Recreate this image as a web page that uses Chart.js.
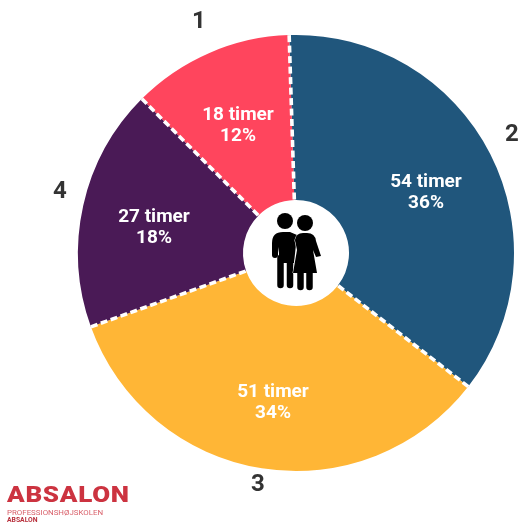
<!DOCTYPE html>
<html>
<head>
<meta charset="utf-8">
<title>Timer</title>
<script src="https://cdn.jsdelivr.net/npm/chart.js@4"></script>
<style>
  html, body { margin: 0; padding: 0; background: #fff; }
  #wrap { position: relative; width: 520px; height: 522px; }
</style>
</head>
<body>
<div id="wrap"><canvas id="graph" width="520" height="522"></canvas></div>
<script>
var categories = ["2", "3", "4", "1"];
var hours = [54, 51, 27, 18];
var percents = [36, 34, 18, 12];
var colors = ["#20567c", "#ffb636", "#4a1a56", "#ff455d"];

// text positions for the labels in the slices and the slice numbers
var innerPos = [[426, 192], [273, 402], [154, 227], [238, 125]];
var numberPos = [[512, 135], [258, 485], [60, 192], [199, 22]];

var slicePlugin = {
  id: "sliceExtras",
  afterDatasetsDraw: function (chart) {
    var ctx = chart.ctx;
    var arcs = chart.getDatasetMeta(0).data;

    // dashed separators
    ctx.save();
    ctx.strokeStyle = "#fff";
    ctx.lineWidth = 3.6;
    ctx.setLineDash([7, 3.5]);
    for (var i = 0; i < arcs.length; i++) {
      var a = arcs[i];
      ctx.beginPath();
      ctx.moveTo(a.x + Math.cos(a.startAngle) * a.outerRadius, a.y + Math.sin(a.startAngle) * a.outerRadius);
      ctx.lineTo(a.x + Math.cos(a.startAngle) * a.innerRadius, a.y + Math.sin(a.startAngle) * a.innerRadius);
      ctx.stroke();
    }
    ctx.restore();

    // texts
    ctx.save();
    ctx.textAlign = "center";
    ctx.textBaseline = "middle";
    for (var j = 0; j < hours.length; j++) {
      ctx.fillStyle = "#fff";
      ctx.font = "700 19px Roboto";
      ctx.fillText(hours[j] + " timer", innerPos[j][0], innerPos[j][1] - 10);
      ctx.fillText(percents[j] + "%", innerPos[j][0], innerPos[j][1] + 11);
      ctx.fillStyle = "#333";
      ctx.font = "700 24px Roboto";
      ctx.fillText(categories[j], numberPos[j][0], numberPos[j][1]);
    }
    ctx.restore();

    drawCouple(ctx, arcs[0].x, arcs[0].y);
    drawLogo(ctx);
  }
};

function limb(ctx, x1, y1, x2, y2, w) {
  ctx.lineWidth = w;
  ctx.beginPath();
  ctx.moveTo(x1, y1);
  ctx.lineTo(x2, y2);
  ctx.stroke();
}

function drawCouple(ctx, cx, cy) {
  ctx.save();
  ctx.translate(cx, cy);
  ctx.fillStyle = "#000";
  ctx.strokeStyle = "#000";
  ctx.lineCap = "round";

  // man
  ctx.beginPath();
  ctx.arc(-11, -32, 8, 0, Math.PI * 2);
  ctx.fill();
  ctx.beginPath();
  ctx.moveTo(-24, 0);
  ctx.lineTo(-24, -10);
  ctx.quadraticCurveTo(-24, -21, -13, -21);
  ctx.lineTo(-6, -21);
  ctx.lineTo(1, -18);
  ctx.lineTo(-2, 10);
  ctx.lineTo(-17, 10);
  ctx.lineTo(-17, -6);
  ctx.lineTo(-18, 0);
  ctx.closePath();
  ctx.fill();
  limb(ctx, -21, 0, -21, 2, 6);
  limb(ctx, -15.5, 5, -15.5, 32, 6.5);
  limb(ctx, -6, 5, -6, 32, 6.5);

  // woman, with a thin white outline against the man
  ctx.beginPath();
  ctx.arc(9, -30, 8, 0, Math.PI * 2);
  ctx.fill();
  ctx.beginPath();
  ctx.moveTo(-1, -13);
  ctx.quadraticCurveTo(0, -20, 7, -20);
  ctx.lineTo(11, -20);
  ctx.quadraticCurveTo(19, -20, 20, -12);
  ctx.lineTo(25, 3);
  ctx.lineTo(20, 4);
  ctx.lineTo(17, -3);
  ctx.lineTo(21, 20);
  ctx.lineTo(-3, 20);
  ctx.lineTo(1, -3);
  ctx.closePath();
  ctx.strokeStyle = "#fff";
  ctx.lineWidth = 1;
  ctx.stroke();
  ctx.fill();
  ctx.strokeStyle = "#000";
  limb(ctx, 4.5, 18, 4.5, 34, 6.5);
  limb(ctx, 13.5, 18, 13.5, 34, 6.5);
  ctx.restore();
}

function drawLogo(ctx) {
  ctx.save();
  ctx.textBaseline = "alphabetic";
  ctx.textAlign = "left";
  ctx.fillStyle = "#cc3340";
  ctx.save();
  ctx.translate(7, 502);
  ctx.scale(1.18, 1);
  ctx.font = "900 22px Roboto";
  ctx.letterSpacing = "0.6px";
  ctx.fillText("ABSALON", 0, 0);
  ctx.restore();
  ctx.letterSpacing = "0px";
  ctx.fillStyle = "#d9606a";
  ctx.font = "400 7.9px Roboto";
  ctx.fillText("PROFESSIONSHØJSKOLEN", 7, 515);
  ctx.fillStyle = "#b8303c";
  ctx.font = "700 6.8px Roboto";
  ctx.fillText("ABSALON", 7, 522);
  ctx.restore();
}

var canvas = document.getElementById("graph");
var myPieChart = new Chart(canvas.getContext("2d"), {
  type: "doughnut",
  data: {
    labels: categories,
    datasets: [
      {
        data: hours,
        backgroundColor: colors,
        borderWidth: 0,
      },
    ],
  },
  options: {
    responsive: false,
    animation: false,
    rotation: -1.8,
    cutout: 53,
    layout: {
      padding: { left: 78, right: 6, top: 35, bottom: 51 },
    },
    plugins: {
      legend: { display: false },
      tooltip: { enabled: false },
    },
  },
  plugins: [slicePlugin],
});
</script>
</body>
</html>
